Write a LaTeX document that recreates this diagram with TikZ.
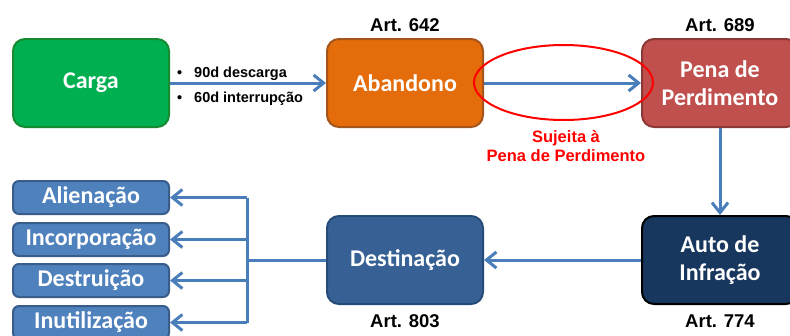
\documentclass[tikz,border=0pt]{standalone}
\usepackage{fontspec}
\setmainfont{Liberation Sans}
\newfontfamily\calib{Carlito}
\usetikzlibrary{arrows.meta,shapes.geometric}
\definecolor{cgreen}{HTML}{00B050}
\definecolor{cgreenb}{HTML}{178A32}
\definecolor{corange}{HTML}{E46C0A}
\definecolor{corangeb}{HTML}{A5541B}
\definecolor{cred}{HTML}{C0504D}
\definecolor{credb}{HTML}{8C3836}
\definecolor{cnavy}{HTML}{17375E}
\definecolor{cdest}{HTML}{376194}
\definecolor{cdestb}{HTML}{264B78}
\definecolor{csmall}{HTML}{4F81BD}
\definecolor{csmallb}{HTML}{385D8A}
\definecolor{carrow}{HTML}{4A7EBB}
\definecolor{ellred}{HTML}{FF0000}
\begin{document}
\begin{tikzpicture}[x=1pt,y=-1pt,
  bigbox/.style={rounded corners=12pt, line width=2pt, text=white,
    font=\calib\bfseries\fontsize{24}{28}\selectfont, align=center,
    inner sep=0pt, minimum width=156pt, minimum height=88pt},
  smallbox/.style={rounded corners=6pt, line width=2pt, text=white,
    fill=csmall, draw=csmallb,
    font=\calib\bfseries\fontsize{24}{28}\selectfont, align=center,
    inner sep=0pt, minimum width=156pt, minimum height=33pt},
  artlabel/.style={font=\bfseries\fontsize{18.5}{22}\selectfont, anchor=base, inner sep=0pt},
  bullettext/.style={font=\bfseries\fontsize{14.5}{17}\selectfont, anchor=base west, inner sep=0pt},
  line/.style={draw=carrow, line width=3pt},
  conn/.style={line, -{Straight Barb[length=10pt,width=16pt]}}
]
\clip (0,0) rectangle (790,335);
\fill[white] (0,0) rectangle (790,335);

% main boxes
\node[bigbox, fill=cgreen, draw=cgreenb] (carga) at (91,83) {Carga};
\node[bigbox, fill=corange, draw=corangeb] (aband) at (405,83) {Abandono};
\node[bigbox, fill=cred, draw=credb] (pena) at (720,83) {Pena de\\Perdimento};
\node[bigbox, fill=cnavy, draw=black] (auto) at (720,260) {Auto de\\Infração};
\node[bigbox, fill=cdest, draw=cdestb] (dest) at (405,260) {Destinação};

% small boxes
\node[smallbox] (alien) at (91,197.5) {Alienação};
\node[smallbox] (incorp) at (91,239.5) {Incorporação};
\node[smallbox] (destr) at (91,280.5) {Destruição};
\node[smallbox] (inut) at (91,322.5) {Inutilização};

% article labels
\node[artlabel] (a642) at (405,31) {Art. 642};
\node[artlabel] (a689) at (720,31) {Art. 689};
\node[artlabel] (a803) at (405,327) {Art. 803};
\node[artlabel] (a774) at (720,327) {Art. 774};

% bullet labels
\node[bullettext] (b1) at (177,77) {•};
\node[bullettext] (t1) at (194,77) {90d descarga};
\node[bullettext] (b2) at (177,102) {•};
\node[bullettext] (t2) at (194,102) {60d interrupção};

% connectors
\draw[conn] (carga.east) -- (aband.west);
\draw[conn] (aband.east) -- (pena.west);
\draw[conn] (pena.south) -- (auto.north);
\draw[conn] (auto.west) -- (dest.east);

\coordinate (j) at (247,260);
\draw[line] (dest.west) -- (j);
\draw[line] (j |- alien.east) -- (j |- inut.east);
\draw[conn] (j |- alien.east) -- (alien.east);
\draw[conn] (j |- incorp.east) -- (incorp.east);
\draw[conn] (j |- destr.east) -- (destr.east);
\draw[conn] (j |- inut.east) -- (inut.east);

% red ellipse and note
\node[ellipse, draw=ellred, line width=2pt, minimum width=179pt, minimum height=75pt, inner sep=0pt] (ell) at (563.5,82.5) {};
\node[font=\bfseries\fontsize{16.5}{19}\selectfont, text=ellred, align=center, inner sep=0pt, anchor=base] (note) at (566,161) {Sujeita à\\Pena de Perdimento};
\end{tikzpicture}
\end{document}
